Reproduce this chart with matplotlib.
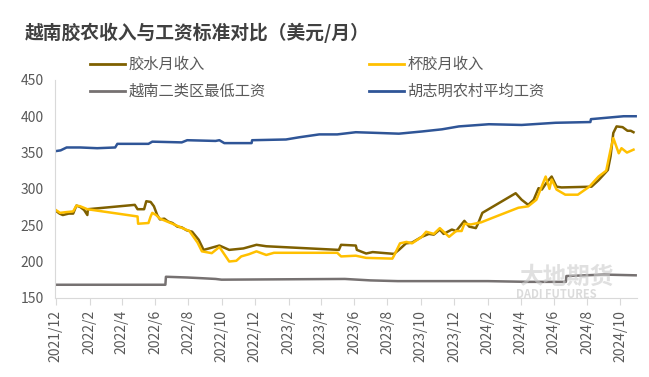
import matplotlib
matplotlib.use("Agg")
import matplotlib.pyplot as plt
import matplotlib.dates as mdates
from matplotlib.lines import Line2D
import pandas as pd

plt.rcParams['font.family'] = ['Noto Sans CJK SC', 'DejaVu Sans']

# 胶水月收入
latex_dates = ["2021-12-01", "2021-12-08", "2021-12-14", "2021-12-25", "2022-01-02", "2022-01-08",
               "2022-01-15", "2022-01-22", "2022-01-28", "2022-01-29", "2022-04-25", "2022-04-30",
               "2022-05-12", "2022-05-16", "2022-05-24", "2022-05-30", "2022-06-05", "2022-06-10",
               "2022-06-18", "2022-06-25", "2022-07-03", "2022-07-12", "2022-07-20", "2022-07-29",
               "2022-08-08", "2022-08-20", "2022-08-29", "2022-09-08", "2022-09-27", "2022-10-15",
               "2022-11-10", "2022-12-04", "2022-12-22", "2023-05-04", "2023-05-08", "2023-06-04",
               "2023-06-06", "2023-06-23", "2023-07-05", "2023-08-13", "2023-08-22", "2023-09-04",
               "2023-09-15", "2023-10-03", "2023-10-16", "2023-10-25", "2023-11-05", "2023-11-12",
               "2023-11-27", "2023-12-05", "2023-12-20", "2023-12-29", "2024-01-10", "2024-01-14",
               "2024-01-22", "2024-03-23", "2024-04-03", "2024-04-15", "2024-04-25", "2024-05-04",
               "2024-05-10", "2024-05-20", "2024-05-28", "2024-06-06", "2024-06-15", "2024-08-09",
               "2024-08-22", "2024-09-08", "2024-09-13", "2024-09-18", "2024-09-24", "2024-10-05",
               "2024-10-14", "2024-10-20", "2024-10-25"]
latex_vals = [270, 266, 264, 266, 266, 277,
              275, 271, 264, 272, 278, 272,
              272, 283, 282, 276, 264, 258,
              259, 255, 253, 248, 247, 243,
              241, 230, 216, 218, 222, 216,
              218, 223, 221, 216, 223, 222,
              216, 211, 213, 210.5, 216, 225,
              226, 234, 238, 237, 244, 238,
              244, 242, 256, 248, 246, 252,
              267, 294, 285, 278, 285, 301,
              299, 310, 317, 303, 302, 303,
              312, 326, 345, 377, 386, 385,
              380, 380, 378]

# 杯胶月收入
cup_dates = ["2021-12-01", "2021-12-09", "2021-12-20", "2022-01-02", "2022-01-08", "2022-01-15",
             "2022-01-28", "2022-04-30", "2022-05-01", "2022-05-20", "2022-05-24", "2022-05-27",
             "2022-06-03", "2022-06-10", "2022-06-20", "2022-07-03", "2022-07-18", "2022-08-03",
             "2022-08-18", "2022-08-26", "2022-09-13", "2022-09-27", "2022-10-15", "2022-10-28",
             "2022-11-06", "2022-11-20", "2022-12-04", "2022-12-22", "2023-01-05", "2023-05-01",
             "2023-05-08", "2023-06-04", "2023-06-23", "2023-08-10", "2023-08-13", "2023-08-24",
             "2023-09-05", "2023-09-15", "2023-10-03", "2023-10-11", "2023-10-25", "2023-11-05",
             "2023-11-22", "2023-12-05", "2023-12-15", "2023-12-20", "2024-01-01", "2024-01-20",
             "2024-02-16", "2024-03-28", "2024-04-15", "2024-04-30", "2024-05-17", "2024-05-24",
             "2024-05-28", "2024-06-06", "2024-06-22", "2024-07-15", "2024-08-05", "2024-08-22",
             "2024-09-05", "2024-09-13", "2024-09-18", "2024-09-28", "2024-10-03", "2024-10-13",
             "2024-10-25"]
cup_vals = [271, 267, 268, 269, 277, 276,
            272, 262, 252, 253, 262, 267,
            264, 259, 256, 252, 247, 242,
            226, 214, 211.5, 220, 200, 201,
            207, 210, 214, 209, 212, 212,
            207, 208, 205, 204, 208, 225,
            227, 225, 234, 241, 238, 246,
            234, 242, 242, 252, 251, 254,
            262, 274, 276, 285, 317, 300,
            313, 299, 292, 292, 303, 317,
            325, 354, 370, 349, 356, 350,
            354]

# 越南二类区最低工资
minwage_dates = ["2021-12-01", "2022-06-20", "2022-06-21", "2022-07-30", "2022-08-26", "2022-09-20",
                 "2022-10-01", "2023-05-15", "2023-07-01", "2023-08-20", "2023-10-15", "2024-02-01",
                 "2024-04-15", "2024-06-23", "2024-06-24", "2024-09-01", "2024-10-29"]
minwage_vals = [168, 168, 179, 178, 177, 176,
                175, 176, 174, 173, 173, 173,
                172, 172, 180, 182, 181]

# 胡志明农村平均工资
hcm_dates = ["2021-12-01", "2021-12-10", "2021-12-21", "2022-01-15", "2022-02-15", "2022-03-20",
             "2022-03-24", "2022-05-20", "2022-05-27", "2022-07-20", "2022-07-30", "2022-09-20",
             "2022-09-27", "2022-10-06", "2022-11-25", "2022-11-26", "2023-01-27", "2023-02-20",
             "2023-03-29", "2023-05-01", "2023-06-04", "2023-07-15", "2023-08-22", "2023-10-03",
             "2023-11-09", "2023-12-10", "2024-02-03", "2024-04-03", "2024-06-04", "2024-08-07",
             "2024-08-08", "2024-10-07", "2024-10-29"]
hcm_vals = [352, 353, 357, 357, 356, 357,
            362, 362, 365, 364, 367, 366,
            367, 363, 363, 367, 368, 371,
            375, 375, 378, 377, 376, 379,
            382, 386, 389, 388, 391, 392,
            396, 400, 400]

fig = plt.figure(figsize=(6.49, 3.77), dpi=100)
ax = fig.add_axes([0.085, 0.21, 0.897, 0.578])

c_latex = "#7f6000"
c_cup = "#ffc000"
c_min = "#767171"
c_hcm = "#2f5597"

ax.plot(pd.to_datetime(minwage_dates), minwage_vals, color=c_min, lw=1.8)
ax.plot(pd.to_datetime(hcm_dates), hcm_vals, color=c_hcm, lw=1.8)
ax.plot(pd.to_datetime(latex_dates), latex_vals, color=c_latex, lw=1.8)
ax.plot(pd.to_datetime(cup_dates), cup_vals, color=c_cup, lw=1.8)

ax.set_ylim(150, 450)
ax.set_yticks([150, 200, 250, 300, 350, 400, 450])
ax.set_xlim(pd.Timestamp("2021-11-30"), pd.Timestamp("2024-11-01"))
ax.xaxis.set_major_locator(mdates.MonthLocator(bymonth=[2, 4, 6, 8, 10, 12]))
ax.xaxis.set_major_formatter(plt.FuncFormatter(
    lambda v, pos: f"{mdates.num2date(v).year}/{mdates.num2date(v).month}"))

for s in ["top", "right"]:
    ax.spines[s].set_visible(False)
ax.spines["left"].set_color("#d9d9d9")
ax.spines["bottom"].set_color("#d9d9d9")
ax.tick_params(axis="x", rotation=90, labelsize=10, colors="#595959", color="#d9d9d9", length=5)
ax.tick_params(axis="y", labelsize=10, colors="#595959", length=0, pad=8)

# watermark
fig.text(0.80, 0.265, "大地期货", fontsize=17, color="#cccccc", alpha=0.6, ha="left", va="center",
         fontweight="bold")
fig.text(0.795, 0.218, "DADI FUTURES", fontsize=8, color="#cccccc", alpha=0.7, ha="left", va="center",
         fontweight="bold")

fig.text(0.038, 0.912, "越南胶农收入与工资标准对比（美元/月）", fontsize=13.5, fontweight="bold",
         color="#404040", ha="left", va="center")

handles = [Line2D([], [], color=c_latex, lw=2), Line2D([], [], color=c_min, lw=2),
           Line2D([], [], color=c_cup, lw=2), Line2D([], [], color=c_hcm, lw=2)]
labels = ["胶水月收入", "越南二类区最低工资", "杯胶月收入", "胡志明农村平均工资"]
leg = fig.legend(handles, labels, ncol=2, loc="upper left", bbox_to_anchor=(0.1387, 0.851),
                 frameon=False, fontsize=11, handlelength=2.3, handletextpad=0.2,
                 columnspacing=6.8, labelspacing=0.65, borderaxespad=0, borderpad=0)
for t in leg.get_texts():
    t.set_color("#595959")

fig.savefig("out.png", dpi=100)
